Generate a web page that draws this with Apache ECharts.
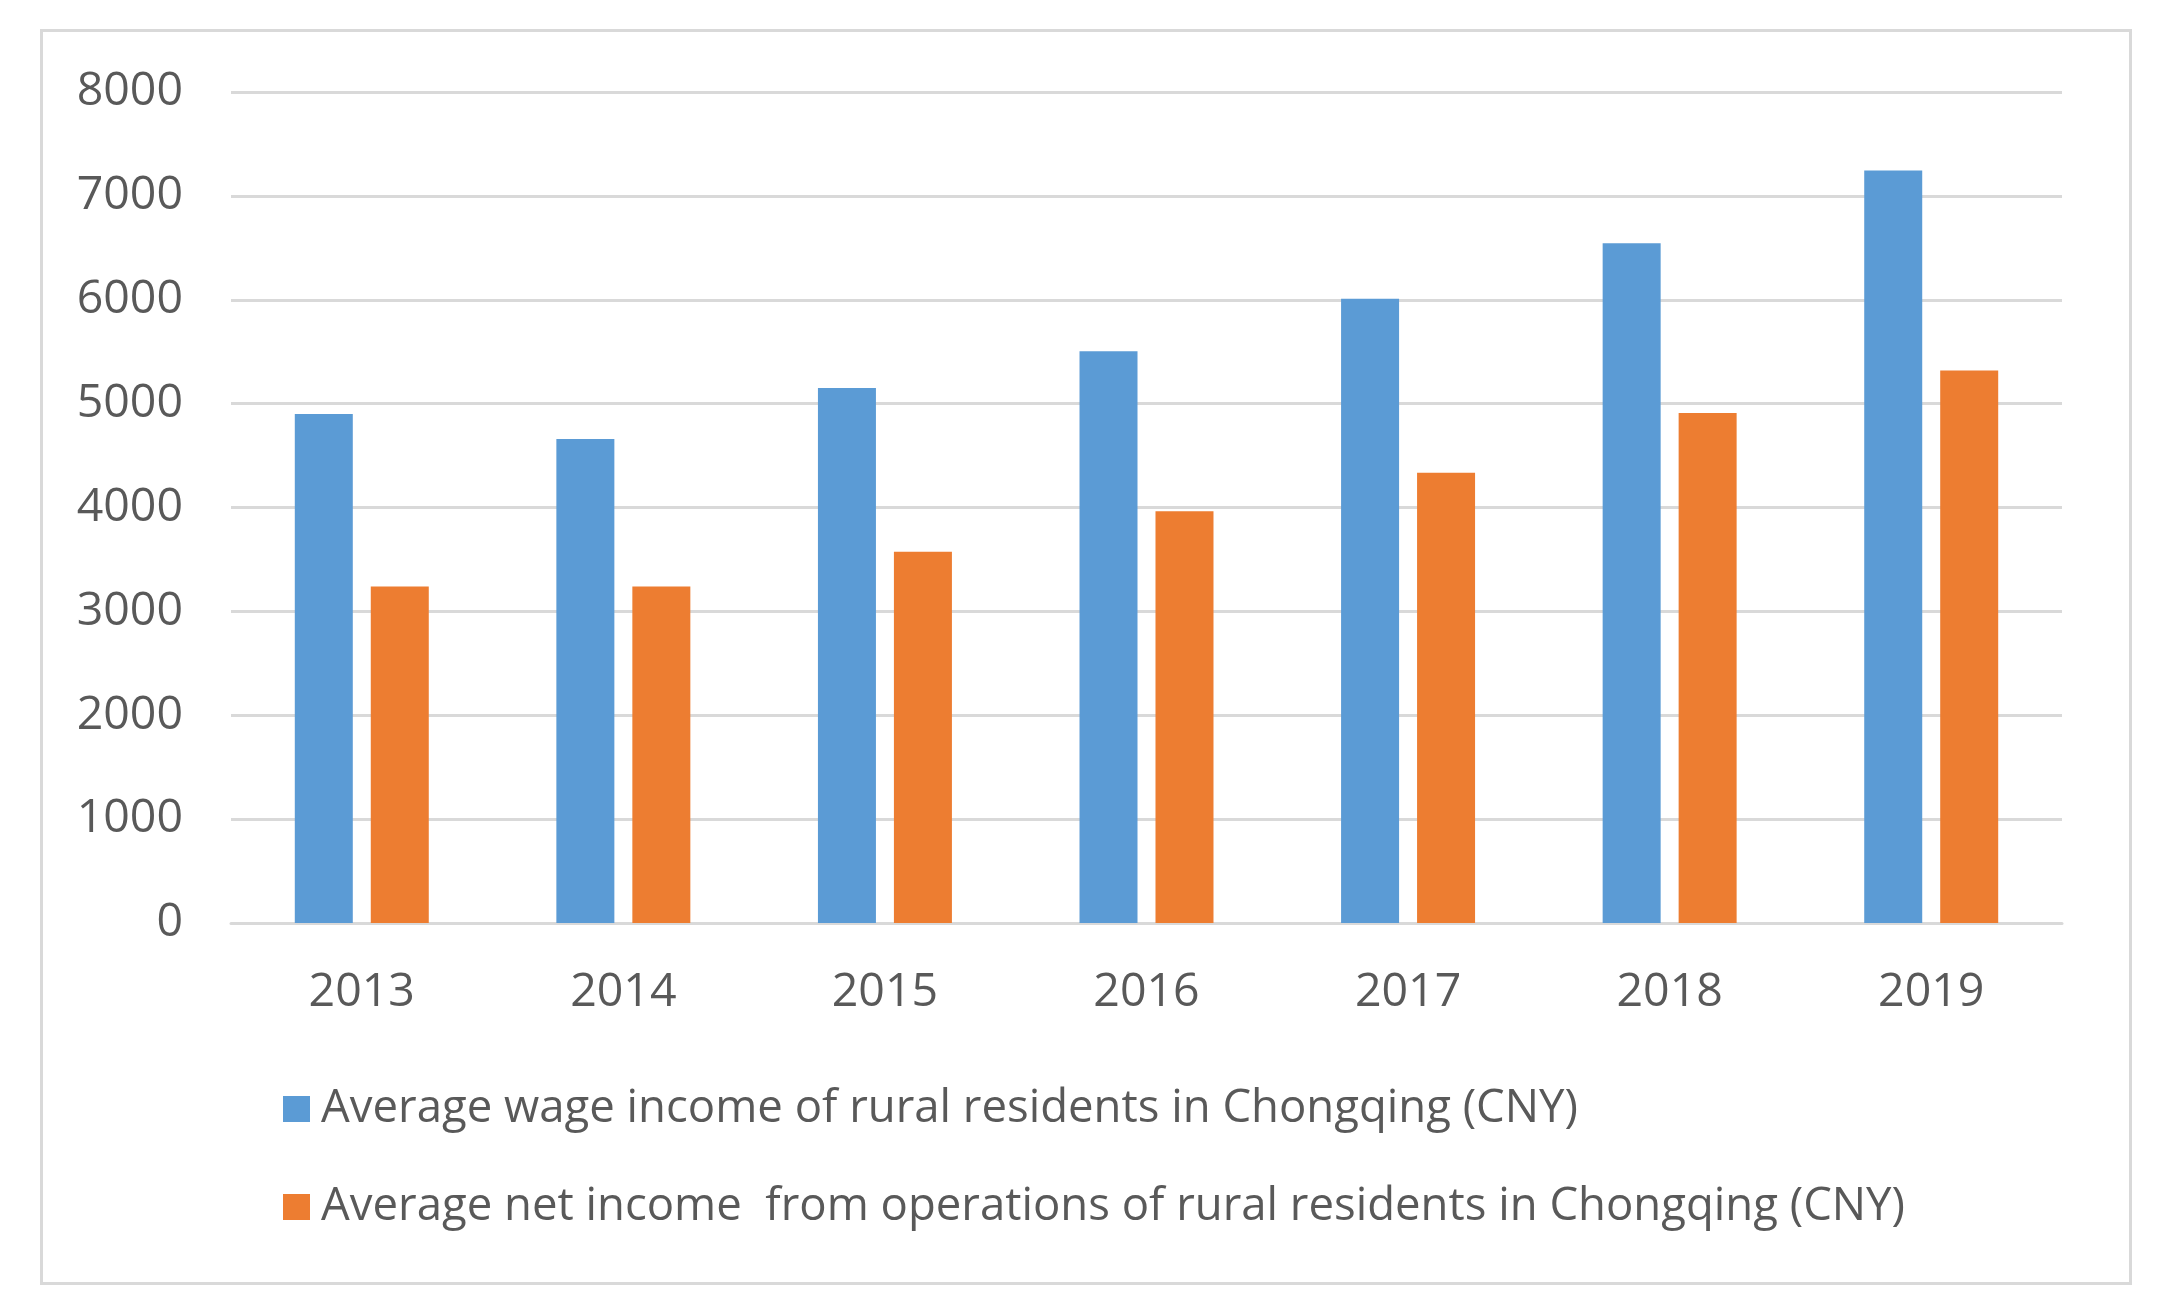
<!DOCTYPE html>
<html>
<head>
<meta charset="utf-8">
<script src="https://cdn.jsdelivr.net/npm/echarts@6/dist/echarts.min.js"></script>
<style>
html,body{margin:0;padding:0;background:#fff;}
#chart{width:2160px;height:1314px;}
</style>
</head>
<body>
<div id="chart"></div>
<script>
const years = ['2013','2014','2015','2016','2017','2018','2019'];
const wageIncome = [4900, 4660, 5150, 5505, 6010, 6545, 7245];
const operationsIncome = [3240, 3240, 3575, 3965, 4335, 4910, 5320];
const seriesNames = [
  'Average wage income of rural residents in Chongqing (CNY)',
  'Average net income  from operations of rural residents in Chongqing (CNY)'
];
const yMin = 0, yMax = 8000, yStep = 1000;

const chart = echarts.init(document.getElementById('chart'), null, {renderer:'canvas'});
const textColor = '#595959';
const axisFont = '"Open Sans", "Noto Sans", sans-serif';
const legendFont = '"Open Sans", "Noto Sans", sans-serif';

chart.setOption({
  backgroundColor: '#ffffff',
  animation: false,
  graphic: [{
    type: 'rect',
    left: 39, top: 28,
    shape: {width: 2089, height: 1253},
    style: {fill: 'none', stroke: '#d9d9d9', lineWidth: 3},
    silent: true, z: -1
  }],
  grid: {left: 231, right: 98, top: 92, bottom: 391, containLabel: false},
  legend: {
    orient: 'vertical',
    left: 278, top: 1081,
    itemWidth: 27, itemHeight: 26,
    itemGap: 52,
    icon: 'rect',
    textStyle: {color: textColor, fontSize: 45.5, fontFamily: legendFont, lineHeight: 46, padding: [0,0,0,6]},
    data: seriesNames
  },
  xAxis: {
    type: 'category',
    data: years,
    axisLine: {show: true, lineStyle: {color: '#d9d9d9', width: 3}},
    axisTick: {show: false},
    axisLabel: {color: textColor, fontSize: 46.5, fontFamily: axisFont, margin: 46}
  },
  yAxis: {
    type: 'value',
    min: yMin, max: yMax, interval: yStep,
    axisLine: {show: false},
    axisTick: {show: false},
    splitLine: {lineStyle: {color: '#d9d9d9', width: 3}},
    axisLabel: {color: textColor, fontSize: 46.5, fontFamily: axisFont, margin: 48,
      formatter: function (v) { return String(v); }}
  },
  series: [
    {
      name: seriesNames[0], type: 'bar', data: wageIncome,
      barWidth: 58, barGap: '31%',
      itemStyle: {color: '#5b9bd5'}
    },
    {
      name: seriesNames[1], type: 'bar', data: operationsIncome,
      barWidth: 58, barGap: '31%',
      itemStyle: {color: '#ed7d31'}
    }
  ]
});
</script>
</body>
</html>
